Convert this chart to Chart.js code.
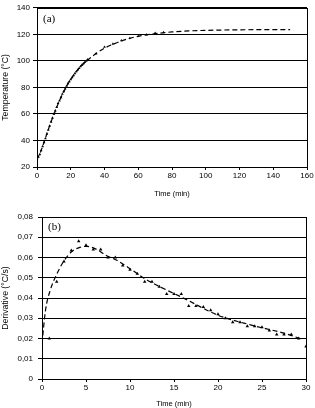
<!DOCTYPE html>
<html>
<head>
<meta charset="utf-8">
<script src="https://cdn.jsdelivr.net/npm/chart.js@4.4.0/dist/chart.umd.min.js"></script>
<style>
  html, body { margin: 0; padding: 0; background: #fff; }
  #wrapA { position: absolute; left: 0; top: 0; width: 315px; height: 200px; }
  #wrapB { position: absolute; left: 0; top: 200px; width: 315px; height: 208px; }
</style>
</head>
<body>
<div id="wrapA"><canvas id="chartA" width="315" height="200"></canvas></div>
<div id="wrapB"><canvas id="chartB" width="315" height="208"></canvas></div>
<script>
// (a) temperature, measured points
const tempTimes = [0, 0.83, 1.67, 2.5, 3.33, 4.17, 5, 5.83, 6.67, 7.5, 8.33, 9.17, 10,
  10.83, 11.67, 12.5, 13.33, 14.17, 15, 15.83, 16.67, 17.5, 18.33, 19.17, 20,
  20.83, 21.67, 22.5, 23.33, 24.17, 25, 25.83, 26.67, 27.5, 28.33, 29.17, 30,
  35, 40, 45, 50, 55, 60, 65, 70, 75];
const tempValues = [26, 27.5, 29.5, 32.5, 35.5, 38.5, 41.5, 45, 48, 51, 54, 57, 60,
  62.5, 65, 68, 70, 72.5, 75, 77, 79, 81, 83, 84.5, 86,
  87.5, 89, 90.5, 92, 93.3, 94.5, 95.8, 97, 98, 99, 100, 101,
  105.4, 110.4, 112.8, 115.3, 117, 118.5, 119.8, 121, 121.5];
// (a) fitted curve
const tempFitTimes = [0, 2, 4, 6, 8, 10, 12, 15, 20, 25, 30, 35, 40, 45, 50, 55, 60, 70, 80, 90, 100, 120, 150];
const tempFitValues = [25.5, 31, 38, 45.5, 53, 59.5, 66, 74.5, 86, 94.5, 100.5, 105.5, 109.5, 112.5, 115, 117, 118.5, 120.5, 121.8, 122.6, 123, 123.4, 123.6];

// (b) derivative, measured points
const derivTimes = [0.83, 1.67, 2.5, 3.33, 4.17, 5, 5.83, 6.67, 7.5, 8.33, 9.17, 10,
  10.83, 11.67, 12.5, 13.33, 14.17, 15, 15.83, 16.67, 17.5, 18.33, 19.17, 20,
  20.83, 21.67, 22.5, 23.33, 24.17, 25, 25.83, 26.67, 27.5, 28.33, 29.17, 30];
const derivValues = [0.020, 0.048, 0.058, 0.0635, 0.068, 0.066, 0.064, 0.064, 0.060, 0.060, 0.056, 0.054,
  0.052, 0.048, 0.048, 0.0455, 0.042, 0.042, 0.042, 0.036, 0.036, 0.0356, 0.034, 0.032,
  0.030, 0.028, 0.028, 0.026, 0.026, 0.0255, 0.024, 0.022, 0.022, 0.022, 0.020, 0.016];
// (b) fitted curve
const derivFitTimes = [0, 0.4, 0.95, 1.7, 2.45, 3.4, 4.3, 5.1, 6.2, 7.3, 8.5, 10, 11.5, 13.2, 16.2, 20, 23.8, 27.6, 29.3];
const derivFitValues = [0.0176, 0.034, 0.044, 0.052, 0.058, 0.063, 0.065, 0.0655, 0.064, 0.061, 0.0586, 0.0545, 0.050, 0.046, 0.0397, 0.0315, 0.0266, 0.0225, 0.020];

const tempTicksY = [20, 40, 60, 80, 100, 120, 140];
const derivTicksY = [0, 0.01, 0.02, 0.03, 0.04, 0.05, 0.06, 0.07, 0.08];

const narrow = "'Liberation Sans Narrow', 'Arial Narrow', 'Liberation Sans', Arial, sans-serif";
Chart.defaults.font.family = narrow;
Chart.defaults.color = "#000";
Chart.defaults.animation = false;

function toXY(xs, ys) {
  return xs.map(function (x, i) { return { x: x, y: ys[i] }; });
}

function framePlugin(label, lx, ly) {
  return {
    id: "frame",
    afterDraw: function (chart) {
      const a = chart.chartArea;
      const ctx = chart.ctx;
      ctx.save();
      ctx.strokeStyle = "#000";
      ctx.lineWidth = 1;
      ctx.strokeRect(Math.round(a.left) + 0.5, Math.round(a.top) + 0.5,
        Math.round(a.right - a.left), Math.round(a.bottom - a.top));
      ctx.font = "11px 'Liberation Serif', 'Times New Roman', serif";
      ctx.fillStyle = "#000";
      ctx.textBaseline = "middle";
      ctx.fillText(label, a.left + lx, a.top + ly);
      ctx.restore();
    }
  };
}

function makeChart(id, opts) {
  const config = {
    type: "scatter",
    data: {
      datasets: [
        {
          data: opts.points,
          pointStyle: "triangle",
          pointRadius: opts.pointRadius,
          backgroundColor: "#000",
          borderColor: "#000",
          borderWidth: 0,
          showLine: false,
          order: 1
        },
        {
          data: opts.fit,
          showLine: true,
          pointRadius: 0,
          borderColor: "#000",
          borderWidth: 1.2,
          borderDash: [5, 3],
          tension: 0.4,
          cubicInterpolationMode: "monotone",
          order: 2
        }
      ]
    },
    options: {
      responsive: false,
      layout: { padding: opts.padding },
      plugins: {
        legend: { display: false },
        tooltip: { enabled: false }
      },
      scales: {
        x: {
          type: "linear",
          min: opts.xMin,
          max: opts.xMax,
          ticks: { stepSize: opts.xStep, font: { size: 8 }, padding: 1, maxRotation: 0 },
          grid: { display: true, drawOnChartArea: false, tickLength: 3, color: "#000" },
          border: { color: "#000" },
          title: { display: true, text: "Time (min)", font: { size: 7.5 }, padding: { top: 3, bottom: 0 } },
          afterFit: function (scale) { scale.height = opts.xHeight; }
        },
        y: {
          type: "linear",
          min: opts.yMin,
          max: opts.yMax,
          afterBuildTicks: function (scale) {
            scale.ticks = opts.yTicks.map(function (v) { return { value: v }; });
          },
          ticks: {
            font: { size: 8 },
            padding: opts.yPad,
            callback: opts.yFormat
          },
          grid: { color: "#000", tickLength: 4, lineWidth: 1 },
          border: { color: "#000" },
          title: {
            display: true,
            text: opts.yTitle,
            font: { size: 8.7, family: "'Liberation Sans', Arial, sans-serif" },
            padding: 0
          },
          afterFit: function (scale) { scale.width = opts.yWidth; }
        }
      }
    },
    plugins: [framePlugin(opts.label, opts.labelX, opts.labelY)]
  };
  return new Chart(document.getElementById(id).getContext("2d"), config);
}

makeChart("chartA", {
  points: toXY(tempTimes, tempValues),
  fit: toXY(tempFitTimes, tempFitValues),
  pointRadius: 1.6,
  xMin: 0, xMax: 160, xStep: 20,
  yMin: 20, yMax: 140, yTicks: tempTicksY,
  yFormat: function (v) { return String(v); },
  yTitle: "Temperature (\u00B0C)",
  yWidth: 37, xHeight: 31, yPad: 3,
  padding: { left: 0, right: 8, top: 5, bottom: 2 },
  label: "(a)", labelX: 6, labelY: 11
});

makeChart("chartB", {
  points: toXY(derivTimes, derivValues),
  fit: toXY(derivFitTimes, derivFitValues),
  pointRadius: 2,
  xMin: 0, xMax: 30, xStep: 5,
  yMin: 0, yMax: 0.08, yTicks: derivTicksY,
  yFormat: function (v) { return v === 0 ? "0" : v.toFixed(2).replace(".", ","); },
  yTitle: "Derivative (\u00B0C/s)",
  yWidth: 42, xHeight: 29, yPad: 5,
  padding: { left: 0, right: 9, top: 17, bottom: 0 },
  label: "(b)", labelX: 6, labelY: 10
});
</script>
</body>
</html>
